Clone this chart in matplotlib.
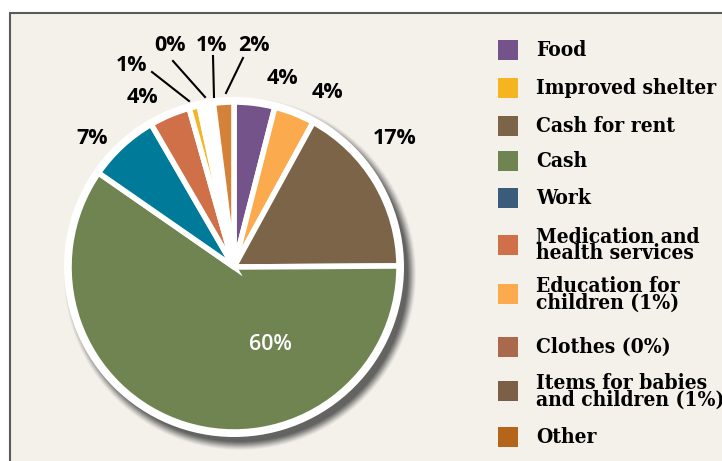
import matplotlib.pyplot as plt
from matplotlib.patches import Rectangle, Circle
import numpy as np

# pie data (clockwise from 12 o'clock)
slice_names = ["Food", "Education for children", "Cash for rent", "Cash", "Work",
               "Medication and health services", "Improved shelter", "Clothes",
               "Items for babies and children", "Other"]
slice_values = [4, 4, 17, 60, 7, 4, 1, 0.4, 1, 2]
slice_labels = ["4%", "4%", "17%", "60%", "7%", "4%", "1%", "0%", "1%", "2%"]
slice_colors = ["#74528a", "#fbaa4d", "#7b6447", "#708452", "#007a99",
                "#d07048", "#f5b521", "#d07048", "#ffffff", "#d4813a"]

# legend data
legend_names = ["Food", "Improved shelter", "Cash for rent", "Cash", "Work",
                "Medication and\nhealth services", "Education for\nchildren (1%)",
                "Clothes (0%)", "Items for babies\nand children (1%)", "Other"]
legend_colors = ["#74528a", "#f5b521", "#7b6447", "#708452", "#3a5c7a",
                 "#d07048", "#fbaa4d", "#a9694a", "#7b6047", "#b5651a"]

W, H = 722, 461
fig = plt.figure(figsize=(W / 100, H / 100), dpi=100)
ax = fig.add_axes([0, 0, 1, 1])


def fy(py):
    # convert pixel row (from top) into data y
    return H - py


# textured panel with frame
ax.add_patch(Rectangle((10, -5), W, fy(13) + 5, facecolor="#f4f1eb",
                       edgecolor="#5a5a5a", lw=1.5, zorder=0))

cx, cy, R = 234, fy(267), 170

# soft drop shadow
for i, a in enumerate(np.linspace(0.05, 0.2, 9)):
    ax.add_patch(Circle((cx + 6, cy - 7), R + 6 - i, facecolor="#2a2a2a",
                        edgecolor="none", alpha=a, zorder=1))
ax.add_patch(Circle((cx, cy), R, facecolor="white", edgecolor="none", zorder=2))

wedges, _ = ax.pie(slice_values, colors=slice_colors, startangle=90,
                   counterclock=False, center=(cx, cy), radius=R - 5,
                   wedgeprops=dict(edgecolor="white", linewidth=4))
for w in wedges:
    w.set_zorder(3)

# percentage labels (pixel positions)
label_pos = [(282, 78), (327, 92), (395, 138), (270, 344), (92, 138),
             (142, 97), (132, 65), (170, 45), (212, 45), (254, 45)]
for i, (lab, (px, py)) in enumerate(zip(slice_labels, label_pos)):
    col = "white" if i == 3 else "black"
    wt = "semibold" if i == 3 else "bold"
    ax.text(px, fy(py), lab, ha="center", va="center", color=col, zorder=5,
            family=["Open Sans", "DejaVu Sans"], fontweight=wt, fontsize=15.5)

# leader lines for the small slices
leaders = [((152, 72), (189, 101)), ((173, 61), (205, 97)),
           ((213, 56), (214, 97)), ((243, 58), (226, 93))]
for (x0, y0), (x1, y1) in leaders:
    ax.plot([x0, x1], [fy(y0), fy(y1)], color="black", lw=1.5, zorder=5)

# legend
leg_y = [50, 88, 126, 161, 198, 245, 294, 347, 391, 437]
for name, col, py in zip(legend_names, legend_colors, leg_y):
    ax.add_patch(Rectangle((498, fy(py) - 10), 20, 20, facecolor=col,
                           edgecolor="none", zorder=5))
    ax.text(536, fy(py), name, ha="left", va="center", fontsize=15,
            family="DejaVu Serif", fontstretch="condensed", fontweight="bold",
            linespacing=0.8, zorder=5)

ax.set_xlim(0, W)
ax.set_ylim(0, H)
ax.set_aspect("equal")
ax.axis("off")

fig.savefig("out.png", dpi=100)
